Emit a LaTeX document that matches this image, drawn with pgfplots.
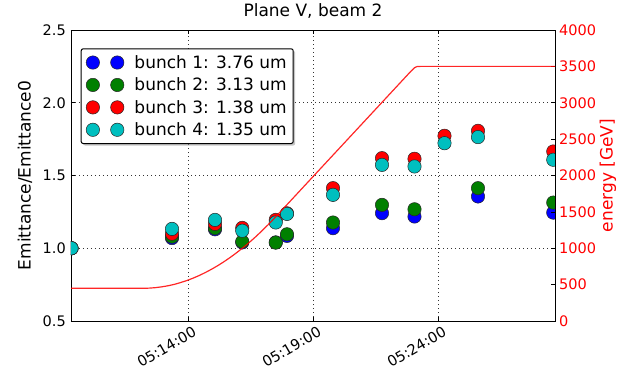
\documentclass[border=0pt]{standalone}
\usepackage{pgfplots}
\pgfplotsset{compat=1.18}
\usepackage{fontspec}
\setmainfont{DejaVu Sans}
\usetikzlibrary{shadows}

\definecolor{mplblue}{rgb}{0,0,1}
\definecolor{mplgreen}{rgb}{0,0.5,0}
\definecolor{mplred}{rgb}{1,0,0}
\definecolor{mplcyan}{rgb}{0,0.75,0.75}

\newcommand{\tickfont}{\fontsize{14.5}{17}\selectfont}
\newcommand{\labfont}{\fontsize{17}{20}\selectfont}

\pgfplotsset{
  bunch/.style={only marks, mark=*, mark size=6.7pt,
    mark options={draw=black!85, line width=0.5pt, fill=#1}, color=#1},
}

\begin{document}
\begin{tikzpicture}
\useasboundingbox (-71pt,-57pt) rectangle (555pt,321pt);
\begin{axis}[
  at={(0pt,0pt)}, anchor=south west,
  scale only axis, width=484pt, height=291pt,
  xmin=9.31, xmax=28.67, ymin=0.5, ymax=2.5,
  clip marker paths=true,
  xtick={14,19,24},
  xticklabels={05:14:00,05:19:00,05:24:00},
  ytick={0.5,1.0,1.5,2.0,2.5},
  ytick pos=left,
  tick align=inside, major tick length=4pt,
  tick style={black, line width=0.6pt},
  axis line style={black, line width=0.9pt},
  grid=major, major grid style={black!80, dash pattern=on 1pt off 3pt, line width=0.6pt},
  /pgf/number format/assume math mode=true,
  yticklabel style={/pgf/number format/fixed, /pgf/number format/fixed zerofill,
    /pgf/number format/precision=1, font=\tickfont, inner sep=1pt, xshift=-4pt},
  xticklabel style={font=\tickfont, rotate=30, anchor=north east, inner sep=1pt, yshift=-5pt, xshift=2pt},
  title={Plane V, beam 2},
  title style={font=\labfont, at={(axis description cs:0.5,1)}, anchor=south, yshift=2pt},
  ylabel={Emittance/Emittance0},
  ylabel style={font=\labfont, at={(axis description cs:-0.095,0.5)}, anchor=center, rotate=0},
  legend cell align=left,
  legend image code/.code={\draw[only marks] plot coordinates {(0pt,0pt) (24.4pt,0pt)};},
  legend style={at={(0.020,0.937)}, anchor=north west, draw=black, line width=1pt,
    rounded corners=2pt, fill=white,
    drop shadow={shadow xshift=2pt, shadow yshift=-2pt, fill=black!45},
    font=\labfont, row sep=5pt, column sep=9pt, inner xsep=5pt, inner ysep=5pt,
    nodes={inner sep=1.5pt}},
]
% bunch 1
\addplot[bunch=mplblue] coordinates {
 (9.33,1.0) (13.35,1.07) (15.07,1.13) (16.16,1.04) (17.50,1.04) (17.95,1.085)
 (19.79,1.138) (21.75,1.241) (23.05,1.218) (25.59,1.356) (28.60,1.245)};
\addlegendentry{bunch 1: 3.76 um}
% bunch 2
\addplot[bunch=mplgreen] coordinates {
 (9.33,1.0) (13.35,1.08) (15.07,1.138) (16.16,1.046) (17.50,1.039) (17.95,1.096)
 (19.79,1.177) (21.75,1.298) (23.05,1.268) (25.59,1.413) (28.60,1.314)};
\addlegendentry{bunch 2: 3.13 um}
% bunch 3
\addplot[bunch=mplred] coordinates {
 (9.33,1.0) (13.35,1.10) (15.07,1.167) (16.16,1.14) (17.50,1.195) (17.95,1.24)
 (19.79,1.413) (21.75,1.619) (23.05,1.615) (24.25,1.773) (25.59,1.807) (28.60,1.665)};
\addlegendentry{bunch 3: 1.38 um}
% bunch 4
\addplot[bunch=mplcyan] coordinates {
 (9.33,1.0) (13.35,1.133) (15.07,1.195) (16.16,1.12) (17.50,1.177) (17.95,1.236)
 (19.79,1.367) (21.75,1.573) (23.05,1.562) (24.25,1.722) (25.59,1.764) (28.60,1.608)};
\addlegendentry{bunch 4: 1.35 um}
\end{axis}

% beam energy on the right-hand axis
\begin{axis}[
  at={(0pt,0pt)}, anchor=south west,
  scale only axis, width=484pt, height=291pt,
  xmin=9.31, xmax=28.67, ymin=0, ymax=4000,
  axis x line=none, axis y line*=right,
  ytick={0,500,...,4000},
  tick align=inside, major tick length=4pt,
  tick style={black, line width=0.6pt},
  axis line style={black, line width=0.9pt},
  /pgf/number format/assume math mode=true,
  yticklabel style={/pgf/number format/set thousands separator={},
    font=\tickfont, color=red, inner sep=1pt, xshift=3pt},
  ylabel={energy [GeV]},
  ylabel style={font=\labfont, color=red, at={(axis description cs:1.1095,0.5)}, anchor=center, rotate=0},
]
\addplot[red, opacity=0.85, line width=1.2pt, line join=round] coordinates {
 (9.31,450) (12.2,450) (12.45,452) (12.7,459) (12.95,470) (13.2,485) (13.45,504)
 (13.7,529) (13.95,557) (14.2,590) (14.45,627) (14.7,669) (14.95,715) (15.2,765)
 (15.45,820) (15.7,879) (15.95,943) (16.2,1010) (16.45,1082) (16.7,1159)
 (16.95,1240) (17.2,1325) (17.49,1429) (19.0,1988) (20.5,2543) (22.0,3098)
 (22.9,3431) (23.05,3482) (23.15,3497) (23.3,3500) (28.67,3500)};
\end{axis}
\end{tikzpicture}
\end{document}
